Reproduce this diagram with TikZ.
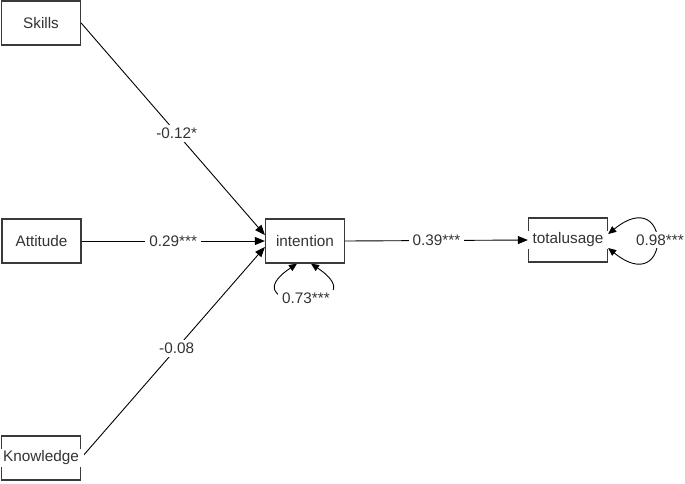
\documentclass[tikz,border=0pt]{standalone}
\usepackage{fontspec}
\setmainfont{Liberation Sans}
\usetikzlibrary{arrows.meta}
\definecolor{txt}{HTML}{333333}
\definecolor{brd}{HTML}{3A3A3A}
\tikzset{
  box/.style={draw=brd, line width=1.3pt, minimum width=79pt, minimum height=44pt, inner sep=0pt},
  boxtext/.style={fill=white, text=txt, inner xsep=5pt, inner ysep=2pt, font=\fontsize{15.3}{17}\selectfont},
  conn/.style={draw=black, line width=0.9pt},
  arr/.style={conn, -{Triangle[length=10pt,width=8pt]}},
  dbl/.style={conn, {Triangle[length=8pt,width=7pt]}-{Triangle[length=8pt,width=7pt]}},
  coef/.style={fill=white, text=txt, inner xsep=4pt, inner ysep=3pt, font=\fontsize{15.3}{17}\selectfont}
}
\begin{document}
\begin{tikzpicture}[x=1pt,y=-1pt]
\useasboundingbox (0,0) rectangle (685,483);
% boxes
\node[box] (skills) at (41,23) {};
\node[box] (attitude) at (41.5,241) {};
\node[box] (knowledge) at (41,458) {};
\node[box] (intention) at (305,241) {};
\node[box] (total) at (568,240) {};
% edges
\draw[arr] (skills.east) -- ([yshift=6pt]intention.west) node[coef, pos=0.52] {-0.12*};
\draw[arr] (attitude.east) -- (intention.west) node[coef, pos=0.5] {0.29***};
\draw[arr] (knowledge.east) -- ([yshift=-6pt]intention.west) node[coef, pos=0.52] {-0.08};
\draw[arr] (intention.east) -- (total.west) node[coef, pos=0.5] {0.39***};
% residual loops
\draw[dbl] ([xshift=-8pt]intention.south) .. controls +(-72,48) and +(72,48) .. ([xshift=6pt]intention.south);
\node[coef] (r1) at (306,298) {0.73***};
\draw[dbl] ([yshift=6pt]total.east) .. controls +(64,-52) and +(64,52) .. ([yshift=-8pt]total.east);
\node[coef] (r2) at (660,240) {0.98***};
% box texts
\node[boxtext] (skills-t) at (skills) {Skills};
\node[boxtext] (attitude-t) at (attitude) {Attitude};
\node[boxtext] (knowledge-t) at (knowledge) {Knowledge};
\node[boxtext] (intention-t) at (intention) {intention};
\node[boxtext] (total-t) at (total) {totalusage};
\end{tikzpicture}
\end{document}
